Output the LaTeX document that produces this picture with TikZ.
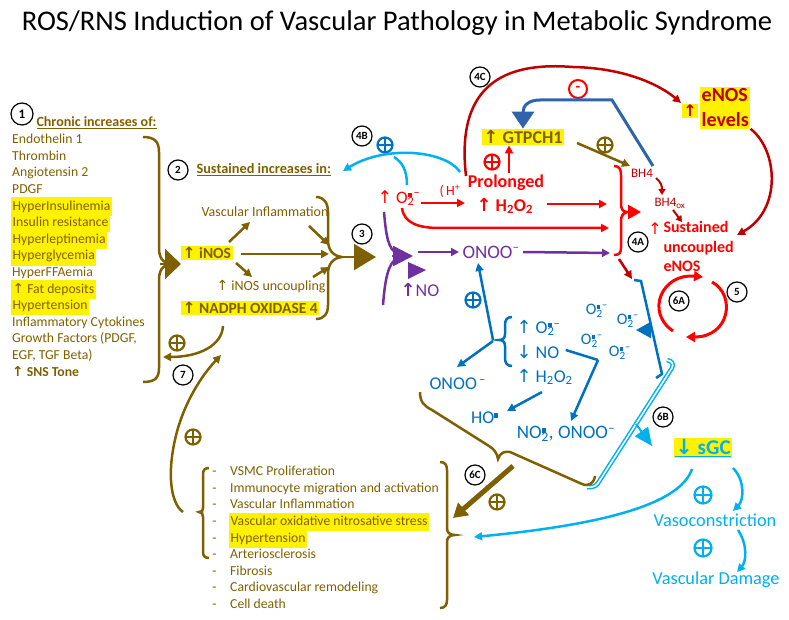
\documentclass[tikz,border=0pt]{standalone}
\usepackage{fontspec}
\setmainfont{Carlito}
\newfontfamily\symf{DejaVu Sans}
\usetikzlibrary{arrows.meta,positioning,shapes}

\definecolor{brn}{RGB}{127,96,0}
\definecolor{ros}{RGB}{255,0,0}
\definecolor{dred}{RGB}{192,0,0}
\definecolor{purp}{RGB}{112,48,160}
\definecolor{blu}{RGB}{0,112,192}
\definecolor{lblu}{RGB}{0,176,240}
\definecolor{dblu}{RGB}{46,100,170}

\newcommand{\fsz}[1]{\fontsize{#1}{#1}\selectfont}
\newcommand{\uarr}{{\symf ↑}}
\newcommand{\darr}{{\symf ↓}}
\newcommand{\rad}{\rule{0.32em}{0.32em}}
% superscript stacked over subscript
\newcommand{\supsub}[2]{\begingroup
  \setbox0\hbox{\textsuperscript{#1}}\setbox2\hbox{\textsubscript{#2}}%
  \ifdim\wd0>\wd2 \rlap{\box2}\box0\else\rlap{\box0}\box2\fi\endgroup}
\newcommand{\Otwo}{O\supsub{\rad\,–}{2}}
\newcommand{\HtwoOtwo}{H\textsubscript{2}O\textsubscript{2}}

\begin{document}
\begin{tikzpicture}[x=1pt,y=-1pt,
    num/.style={
        circle, draw, line width=1.2pt, fill=white,
        inner sep=0pt, minimum size=20pt,
        font=\bfseries\fsz{11}
    },
    pl/.style={
        circle, draw=#1, line width=2.2pt,
        inner sep=0pt, minimum size=15pt,
        path picture={\draw[#1, line width=2.2pt]
            (path picture bounding box.north) -- (path picture bounding box.south)
            (path picture bounding box.west) -- (path picture bounding box.east);}
    },
    hl/.style={fill=yellow, inner sep=1.5pt},
    item/.style={
        anchor=west, text=brn, inner xsep=1pt, inner ysep=0.5pt,
        text height=11.5pt, text depth=4.1pt, font=\fsz{13.7}
    },
    bul/.style={item, label={[text=brn, font=\fsz{13.7}, inner ysep=0.5pt,
        text height=11.5pt, text depth=4.1pt, label distance=9pt]180:-}},
    con/.style={line width=2.5pt, -{Triangle[length=8pt,width=8pt]}},
    brk/.style={line width=2.5pt}
]
\useasboundingbox (0,0) rectangle (789,620);

% title
\node[font=\fsz{28.5}] (title) at (397,23) {ROS/RNS Induction of Vascular Pathology in Metabolic Syndrome};

% chronic increases
\node[num, minimum size=22pt, font=\bfseries\fsz{13}] (n1) at (22,114) {1};
\node[anchor=west, text=brn, font=\bfseries\fsz{14}] (hdr1) at (33,123) {\underline{Chronic increases of:}};
\node[item] (c1) at (11,140) {Endothelin 1};
\node[item] (c2) at (11,156.6) {Thrombin};
\node[item] (c3) at (11,173.2) {Angiotensin 2};
\node[item] (c4) at (11,189.8) {PDGF};
\node[item, hl] (c5) at (11,206.4) {HyperInsulinemia};
\node[item, hl] (c6) at (11,223) {Insulin resistance};
\node[item, hl] (c7) at (11,239.6) {Hyperleptinemia};
\node[item, hl] (c8) at (11,256.2) {Hyperglycemia};
\node[item] (c9) at (11,272.8) {HyperFFAemia};
\node[item, hl] (c10) at (11,289.4) {\uarr\ Fat deposits};
\node[item, hl] (c11) at (11,306) {Hypertension};
\node[item] (c12) at (11,322.6) {Inflammatory Cytokines};
\node[item] (c13) at (11,339.2) {Growth Factors (PDGF,};
\node[item] (c14) at (11,355.8) {EGF, TGF Beta)};
\node[item, font=\bfseries\fsz{13.7}] (c15) at (11,372.4) {\uarr\ SNS Tone};

\draw[brn, brk] (143,137) .. controls (155,137) and (159,142) .. (159,152) -- (159,248)
    .. controls (159,258) and (163,263) .. (170,264);
\draw[brn, brk] (170,264) .. controls (163,265) and (159,270) .. (159,280) -- (159,368)
    .. controls (159,378) and (155,382) .. (143,382);

% sustained increases
\node[num] (n2) at (178,170) {2};
\node[anchor=west, text=brn, font=\bfseries\fsz{14.3}] (hdr2) at (193,170) {\underline{Sustained increases in:}};
\node[hl, anchor=west, text=brn, font=\bfseries\fsz{15.5}] (inos) at (181,253) {\uarr\ iNOS};
\node[hl, anchor=west, text=brn, font=\bfseries\fsz{15.5}] (nadph) at (181,308) {\uarr\ NADPH OXIDASE 4};
\node[text=brn, font=\fsz{14}] (vinfl) at (265,212) {Vascular Inflammation};
\node[text=brn, font=\fsz{14}] (inosunc) at (271,287) {\uarr\ iNOS uncoupling};
\coordinate (b1) at (160,264);
\draw[brn, line width=2.5pt, -{Triangle[length=16pt,width=30pt]}] (b1) -- (b1 -| inos.west);

\draw[con, brn] (229,242) -- (250,222);
\draw[con, brn] (inos.east) ++(8,1) -- (329,254);
\draw[con, brn] (236,263) -- (252,277);
\draw[con, brn] (309,226) -- (329,245);
\draw[con, brn] (313,277) -- (329,267);

\draw[brn, brk] (316,197) .. controls (324,197) and (328,203) .. (328,212) -- (328,240)
    .. controls (328,250) and (333,256) .. (342,257);
\draw[brn, brk] (342,257) .. controls (333,258) and (328,264) .. (328,274) -- (328,305)
    .. controls (328,314) and (324,319) .. (316,319);
\coordinate (b2) at (342,257);
\draw[brn, line width=2.5pt, -{Triangle[length=22pt,width=26pt]}] (b2) -- (376,257);
\node[num] (n3) at (362,234) {3};

% feedback 7
\node[pl=brn] (pl7) at (177,343) {};
\node[num] (n7) at (183,375) {7};
\draw[con, brn] (223,326) .. controls (222,345) and (200,357) .. (163,357);
\draw[con, brn] (183,512) .. controls (170,503) and (166,470) .. (178,428)
    .. controls (188,395) and (205,372) .. (221,355);
\node[pl=brn] (plup) at (193,437) {};

% superoxide, peroxynitrite
\node[anchor=west, text=ros, font=\fsz{17.5}] (o2) at (374,198) {\uarr\ \Otwo};
\node[text=ros, font=\fsz{14}] (hplus) at (450,191) {(\,H\textsuperscript{+}};
\node[anchor=west, text=ros, font=\bfseries\fsz{18}] (h2o2) at (473,206) {\uarr\ \HtwoOtwo};
\node[text=ros, font=\bfseries\fsz{18}] (prol) at (506,183) {Prolonged};
\node[pl=ros] (plr) at (492,162) {};
\node[hl, text=brn, font=\bfseries\fsz{18}] (gtp) at (523,137) {\uarr\ GTPCH1};
\draw[con, ros] (421,203) -- (465,203);
\draw[con, ros] (509,173) -- (gtp.south -| 509,0);
\draw[con, ros] (547,204) -- (607,204);
\draw[con, ros] (402,208) .. controls (404,224) and (420,228) .. (440,228) -- (609,228);

\draw[purp, brk] (384,212) .. controls (386,235) and (388,250) .. (398,254);
\draw[purp, brk] (383,305) .. controls (385,280) and (388,262) .. (398,258);
\coordinate (pm) at (392,256);
\draw[purp, line width=2.5pt, -{Triangle[length=20pt,width=20pt]}] (pm) -- (413,256);
\fill[purp] (408,262) -- (426,270) -- (408,279) -- cycle;
\node[anchor=west, text=purp, font=\fsz{18}] (no) at (397,290) {{\bfseries\uarr}NO};
\node[anchor=west, text=purp, font=\fsz{19}] (onoo) at (459,252) {ONOO\textsuperscript{–}};
\draw[con, purp] (418,252) -- (onoo.west);
\draw[con, purp] (onoo.east) -- (610,253);

% 4B
\node[num] (n4b) at (362,136) {4B};
\node[pl=blu] (pl4b) at (385,145) {};
\draw[con, lblu] (460,172) .. controls (445,150) and (385,145) .. (343,171);
\draw[lblu, brk] (407,185) .. controls (407,170) and (402,162) .. (394,157);

% 4C
\node[num] (n4c) at (480,77) {4C};
\draw[con, dred] (466,176) .. controls (455,80) and (510,62) .. (573,67)
    .. controls (625,68) and (660,85) .. (681,103);
\node[circle, draw=ros, line width=2pt, fill=white, minimum size=18pt, inner sep=0pt,
    text=ros, font=\bfseries\fsz{15}] (minus) at (578,89) {-};
\draw[dblu, line width=3pt, -{Triangle[length=17pt,width=22pt]}] (653,166) -- (612,100) -- (540,100)
    .. controls (528,100) and (523,106) .. (gtp.north);

\node[hl, text=dred, font=\bfseries\fsz{16}] (lvarr) at (690,111) {\uarr};
\node[hl, anchor=west, align=left, text=dred, font=\bfseries\fontsize{20}{25}\selectfont] (lv) at (700,108) {eNOS\\levels};
\draw[con, dred] (lv.south east) .. controls (778,150) and (782,210) .. (737,235);

% BH4
\node[pl=brn] (plbh) at (605,145) {};
\draw[con, brn] (577,143) -- (630,166);
\node[text=dred, font=\fsz{13}] (bh4) at (642,173) {BH4};
\node[text=dred, font=\fsz{13}] (bh4ox) at (670,203) {BH4\textsubscript{ox}};
\draw[dred, line width=2pt, -{Triangle[length=6pt,width=7pt]}] (656,178) .. controls (661,182) and (662,186) .. (662,195);
\draw[dred, line width=2pt, -{Triangle[length=6pt,width=7pt]}] (673,210) -- (682,222);

\draw[ros, brk] (614,166) .. controls (619,166) and (621,169) .. (621,175) -- (621,204)
    .. controls (621,209) and (623,212) .. (627,212);
\draw[ros, brk] (627,212) .. controls (623,213) and (621,216) .. (621,221) -- (621,248)
    .. controls (621,253) and (619,255) .. (614,255);
\coordinate (rb) at (626,212);
\draw[ros, line width=2.5pt, -{Triangle[length=13pt,width=14pt]}] (rb) -- (641,212);
\node[num] (n4a) at (638,242) {4A};
\node[text=ros, font=\fsz{16}] (sarr) at (655,229) {\uarr};
\node[anchor=north west, align=left, text=ros, font=\bfseries\fontsize{16}{19.5}\selectfont] (sust) at (660,218) {Sustained\\uncoupled\\eNOS};

% eNOS cycle
\draw[ros, line width=3pt, -{Triangle[length=9pt,width=10pt]}] (673,331) .. controls (645,312) and (662,273) .. (703,277);
\draw[ros, line width=3pt, -{Triangle[length=9pt,width=10pt]}] (712,282) .. controls (736,295) and (730,337) .. (686,337);
\node[num] (n6a) at (679,301) {6A};
\node[num] (n5) at (737,292) {5};
\draw[con, dred] (619,259) -- (632,279);

% blue block
\node[pl=blu] (plb) at (473,300) {};
\draw[con, blu] (493,340) -- (478,263);
\draw[blu, brk] (512,317) .. controls (507,317) and (505,320) .. (505,325) -- (505,334)
    .. controls (505,338) and (503,340) .. (499,340) .. controls (503,340) and (505,342) .. (505,346)
    -- (505,358) .. controls (505,363) and (507,366) .. (512,366);
\node[anchor=west, text=blu, font=\fsz{18}] (bo2) at (513,328) {\uarr\ \Otwo};
\node[anchor=west, text=blu, font=\fsz{18}] (bno) at (513,352) {\darr\ NO};
\node[anchor=west, text=blu, font=\fsz{18}] (bh2o2) at (513,377) {\uarr\ \HtwoOtwo};
\node[anchor=west, text=blu, font=\fsz{18}] (bonoo) at (426,384) {ONOO\textsuperscript{\color{purp}\,–}};
\draw[con, blu] (493,341) -- (457,367);
\node[text=blu, font=\fsz{18}] (ho) at (485,418) {HO\textsuperscript{\rad}};
\draw[con, blu] (542,392) -- (507,411);
\node[text=blu, font=\fsz{19}] (no2) at (566,434) {NO\supsub{\rad}{2}, ONOO\textsuperscript{–}};
\coordinate (vx) at (598,360);
\draw[blu, brk] (bno.east) ++(3,-2) -- (vx);
\draw[con, blu] (vx) -- (571,421);
\node[text=blu, font=\fsz{16}] (bo2a) at (597,311) {\Otwo};
\node[text=blu, font=\fsz{16}] (bo2b) at (628,321) {\Otwo};
\node[text=blu, font=\fsz{16}] (bo2c) at (592,341) {\Otwo};
\node[text=blu, font=\fsz{16}] (bo2d) at (620,353) {\Otwo};

\draw[blu, brk] (634,280) -- (641,281) -- (662,374) -- (656,378);
\coordinate (bb) at (653,330);
\draw[blu, line width=2pt, -{Triangle[length=15pt,width=16pt]}] (bb) -- (636,330);

% sGC
\draw[lblu, line width=1.5pt, double=white, double distance=1.6pt] (667,360) .. controls (672,361) and (674,364) .. (672,368)
    -- (600,480) .. controls (597,486) and (593,488) .. (587,487);
\coordinate (lb) at (636,424);
\draw[lblu, line width=2pt, -{Triangle[length=18pt,width=16pt]}] (lb) -- (652,446);
\node[num] (n6b) at (663,417) {6B};
\node[hl, text=lblu, font=\bfseries\fsz{21}] (sgc) at (703,448) {\underline{\darr\ sGC}};
\node[pl=lblu, minimum size=17pt] (pls1) at (703,495) {};
\node[text=lblu, font=\fsz{18.3}] (vc) at (715,520) {Vasoconstriction};
\node[pl=lblu, minimum size=17pt] (pls2) at (703,548) {};
\node[text=lblu, font=\fsz{18.3}] (vd) at (716,580) {Vascular Damage};
\draw[con, lblu] (733,468) .. controls (745,480) and (744,500) .. (733,511);
\draw[con, lblu] (738,530) .. controls (748,545) and (746,562) .. (737,572);
\draw[con, lblu] (692,469) .. controls (680,505) and (600,525) .. (474,537);

% outcomes
\draw[brn, brk] (420,392) .. controls (420,402) and (424,406) .. (432,410) -- (489,446)
    .. controls (494,449) and (497,453) .. (498,459) .. controls (500,453) and (504,451) .. (510,452)
    -- (582,484) .. controls (589,487) and (594,483) .. (595,476);
\draw[brn, line width=5pt, -{Triangle[length=14pt,width=16pt]}] (513,466) -- (453,518);
\node[num] (n6c) at (475,475) {6C};
\node[pl=brn] (pl6c) at (497,502) {};

\node[bul] (o1) at (229,472) {VSMC Proliferation};
\node[bul] (o2l) at (229,488.6) {Immunocyte migration and activation};
\node[bul] (o3) at (229,505.2) {Vascular Inflammation};
\node[bul, hl] (o4) at (229,521.8) {Vascular oxidative nitrosative stress};
\node[bul, hl] (o5) at (229,538.4) {Hypertension};
\node[bul] (o6) at (229,555) {Arteriosclerosis};
\node[bul] (o7) at (229,571.6) {Fibrosis};
\node[bul] (o8) at (229,588.2) {Cardiovascular remodeling};
\node[bul] (o9) at (229,604.8) {Cell death};

\draw[brn, brk] (209,468) .. controls (205,468) and (203,470) .. (203,474) -- (203,508)
    .. controls (203,511) and (202,512) .. (199,512) .. controls (202,512) and (203,514) .. (203,517)
    -- (203,552) .. controls (203,556) and (205,558) .. (209,558);
\draw[brn, brk] (440,462) .. controls (445,462) and (447,465) .. (447,470) -- (447,528)
    .. controls (447,532) and (449,535) .. (455,535) .. controls (449,535) and (447,538) .. (447,542)
    -- (447,600) .. controls (447,605) and (445,608) .. (440,608);
\end{tikzpicture}
\end{document}
